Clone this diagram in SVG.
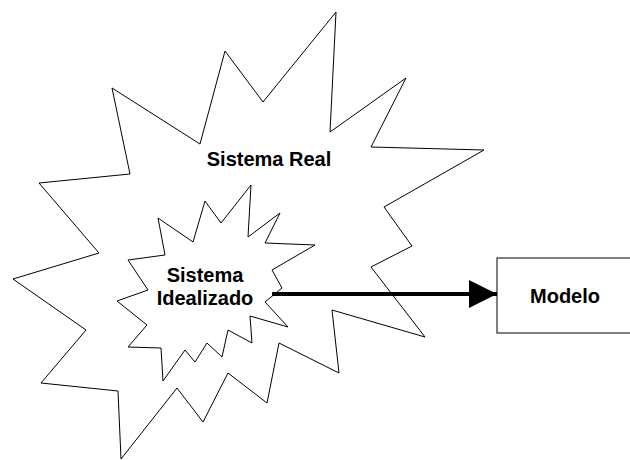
<svg xmlns="http://www.w3.org/2000/svg" width="630" height="460" viewBox="0 0 630 460">
<style>
.shape{fill:#fff;stroke:#000;stroke-width:1;stroke-linejoin:miter}
.lbl{font-family:"Liberation Sans",Arial,sans-serif;font-weight:bold;font-size:20px;fill:#000;text-anchor:middle}
.conn{stroke:#000;stroke-width:4;fill:none}
</style>
<defs>
<marker id="arrow" markerUnits="userSpaceOnUse" markerWidth="30" markerHeight="30" refX="28" refY="14" orient="auto">
<path d="M0,0 L28,14 L0,28 Z" fill="#000"/>
</marker>
</defs>
<rect width="630" height="460" fill="#fff"/>
<g id="sistema-real">
<polygon class="shape" points="336,12 330,132 406,78 371,147 484,150 384,207 412,246 371,267 425,337 332,310 339,373 279,343 267,403 228,373 203,422 177,388 121,459 118,391 41,383 86,330 13,279 99,253 39,183 130,174 112,88 200,144 225,51 263,102"/>
<text class="lbl" x="269" y="166">Sistema Real</text>
</g>
<g id="sistema-idealizado">
<polygon class="shape" points="251,185 248,237 280,213 265,243 315,245 272,270 282,288 265,302 288,327 250,316 252,343 228,330 222,357 207,343 195,362 185,350 163,381 161,348 128,347 147,325 117,301 148,290 128,260 165,255 158,218 193,242 205,201 221,223"/>
<text class="lbl" x="205" y="282">Sistema</text>
<text class="lbl" x="205" y="305">Idealizado</text>
</g>
<g id="modelo">
<rect class="shape" x="497" y="258" width="140" height="75"/>
<text class="lbl" x="565" y="303">Modelo</text>
</g>
<g id="connectors">
<line class="conn" x1="272" y1="294" x2="497" y2="294" marker-end="url(#arrow)"/>
</g>
</svg>
